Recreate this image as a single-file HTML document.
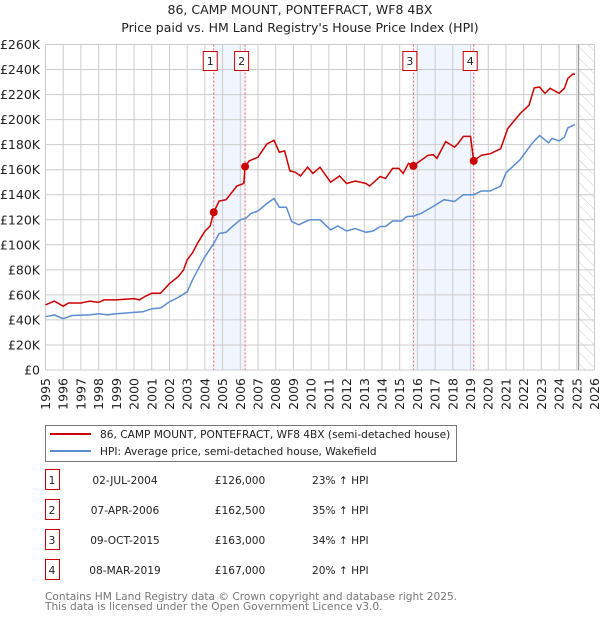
<!DOCTYPE html>
<html><head><meta charset="utf-8"><style>
body{margin:0;background:#fff;}
svg text{font-family:"DejaVu Sans","Liberation Sans",sans-serif;}
</style></head><body>
<svg id="c" width="600" height="620" xmlns="http://www.w3.org/2000/svg">
<defs><pattern id="hatch" width="8" height="8" patternUnits="userSpaceOnUse" patternTransform="rotate(-45)"><line x1="0" y1="0" x2="0" y2="8" stroke="#ccc" stroke-width="1"/></pattern></defs>
<text x="300" y="14" text-anchor="middle" font-size="12.5" fill="#222">86, CAMP MOUNT, PONTEFRACT, WF8 4BX</text>
<text x="300" y="32" text-anchor="middle" font-size="12.5" fill="#222">Price paid vs. HM Land Registry's House Price Index (HPI)</text>
<g id="plot"></g>
<g>
<rect x="45.5" y="425.5" width="411" height="36" fill="#fff" stroke="#777"/>
<line x1="50" y1="434" x2="91" y2="434" stroke="#cc0000" stroke-width="2"/>
<text x="100" y="438" font-size="10.6" fill="#222">86, CAMP MOUNT, PONTEFRACT, WF8 4BX (semi-detached house)</text>
<line x1="50" y1="451" x2="91" y2="451" stroke="#5b8dd0" stroke-width="2"/>
<text x="100" y="455" font-size="10.6" fill="#222">HPI: Average price, semi-detached house, Wakefield</text>
</g>
<g id="table"></g>
<text x="45" y="600" font-size="10.6" fill="#777">Contains HM Land Registry data © Crown copyright and database right 2025.</text>
<text x="45" y="610" font-size="10.6" fill="#777">This data is licensed under the Open Government Licence v3.0.</text>
</svg>
<script>
const hpiYears=[1995,1995.5,1996,1996.5,1997.5,1998,1998.5,1999,2000,2000.5,2001,2001.5,2002,2002.5,2003,2003.3,2003.6,2004,2004.5,2004.8,2005.2,2005.5,2006,2006.3,2006.6,2007,2007.5,2007.9,2008.2,2008.6,2008.9,2009.3,2009.9,2010.5,2011.1,2011.5,2012,2012.5,2013.1,2013.5,2013.9,2014.2,2014.6,2015.1,2015.4,2015.8,2016.2,2016.9,2017.5,2018.1,2018.6,2019.2,2019.6,2020.1,2020.7,2021.0,2021.8,2022.5,2022.9,2023.4,2023.6,2024.0,2024.3,2024.5,2024.9];
const hpiValues=[42.6,44,41,43.5,44,45,44,45,46,46.5,49,49.5,54.5,58,62.5,72,80,90.5,101,109,110,114,120,121,125,127,133,137,130,130,118.5,116,120,120,112,115,111,113,110,111,114.6,114.6,119,119,122.5,123,125,130.7,136,134.6,140,140,143,143,146.8,157.5,168,181.5,187.3,181.5,185,183,186,193.5,196];
const priceYears=[1995,1995.5,1996,1996.3,1997,1997.5,1998,1998.3,1999,2000,2000.3,2000.6,2001,2001.5,2002,2002.5,2002.8,2003,2003.3,2003.6,2004,2004.3,2004.5,2004.8,2005.2,2005.5,2005.8,2006.2,2006.27,2006.5,2007,2007.5,2007.9,2008.2,2008.5,2008.8,2009.1,2009.4,2009.8,2010.1,2010.5,2011.1,2011.6,2012,2012.5,2013.1,2013.3,2013.9,2014.2,2014.6,2014.95,2015.2,2015.5,2015.77,2016.6,2016.9,2017.1,2017.6,2018.1,2018.3,2018.6,2019.0,2019.18,2019.6,2020.1,2020.7,2021.1,2021.8,2022.3,2022.6,2022.9,2023.2,2023.5,2024.0,2024.3,2024.5,2024.8,2024.9];
const priceValues=[52,55,51,53.5,53.5,55,54,56,56,57,56,58.6,61.3,61.3,69,74.6,80,88,93.6,101.6,110.9,115,126,135,136,141.5,147,149,162.5,167,170,180.5,183.5,174,175,159,158,155,162,157,162,150,155,149,151,149,147,154.6,153,161,161,157,165,163,171.5,172,169,182.4,178,181,186.6,186.6,167,171.5,172.7,176.7,192.8,204.8,211.5,225.4,226,221,225,221,225,233,236.6,236];
const saleLabels=["1","2","3","4"];
const saleYears=[2004.5,2006.27,2015.77,2019.18];
const saleValues=[126,162.5,163,167];
const saleDates=["02-JUL-2004","07-APR-2006","09-OCT-2015","08-MAR-2019"];
const salePrices=["£126,000","£162,500","£163,000","£167,000"];
const saleHpi=["23% ↑ HPI","35% ↑ HPI","34% ↑ HPI","20% ↑ HPI"];
const yTicks=[0,20,40,60,80,100,120,140,160,180,200,220,240,260];
const xTicks=[1995,1996,1997,1998,1999,2000,2001,2002,2003,2004,2005,2006,2007,2008,2009,2010,2011,2012,2013,2014,2015,2016,2017,2018,2019,2020,2021,2022,2023,2024,2025,2026];
const dataEnd=2025.1;

const X0=45.5,X1=594.5,Y0=370,Y1=44.5;
const x=y=>X0+(y-1995)/(2026-1995)*(X1-X0);
const yv=v=>Y0-v/260*(Y0-Y1);
const NS="http://www.w3.org/2000/svg";
const plot=document.getElementById('plot');
function mk(tag,at,parent){const e=document.createElementNS(NS,tag);for(const k in at)e.setAttribute(k,at[k]);(parent||plot).appendChild(e);return e;}

for(let i=0;i<saleYears.length;i+=2){
  const r=mk('rect',{x:x(saleYears[i]),y:Y1,width:x(saleYears[i+1])-x(saleYears[i]),height:Y0-Y1,fill:'#eef3fc',opacity:0.8});
  
  
}
const hr=mk('rect',{x:x(dataEnd),y:Y1,width:X1-x(dataEnd),height:Y0-Y1,fill:'url(#hatch)'});


yTicks.forEach(t=>{
  const l=mk('line',{x1:X0,x2:X1,y1:yv(t),y2:yv(t),stroke:'#ccc','stroke-width':1});
  
  
  const tx=mk('text',{x:40,y:yv(t)+4.5,'text-anchor':'end','font-size':12.5,fill:'#222'});
  tx.textContent=t===0?'£0':'£'+t+'K';
  
  
});
xTicks.forEach(t=>{
  const l=mk('line',{x1:x(t),x2:x(t),y1:Y1,y2:Y0,stroke:'#ccc','stroke-width':1});
  
  
  const tx=mk('text',{x:0,y:0,'text-anchor':'end','font-size':12.5,fill:'#222',transform:`translate(${x(t)+4.5},378) rotate(-90)`});
  tx.textContent=t;
  
  
});
const el=mk('line',{x1:x(dataEnd),x2:x(dataEnd),y1:Y1,y2:Y0,stroke:'#999','stroke-width':1.2});


saleYears.forEach((s,i)=>{
  const l=mk('line',{x1:x(s),x2:x(s),y1:Y1,y2:Y0,stroke:'#e06060','stroke-width':1,'stroke-dasharray':'2,2'});
  
  
  const b=mk('rect',{x:x(s)-10.5,y:51.5,width:14,height:19,fill:'#fff',stroke:'#cc0000','stroke-width':1});
  
  
  const t=mk('text',{x:x(s)-3.5,y:65,'text-anchor':'middle','font-size':11,fill:'#222'});
  t.textContent=saleLabels[i];
  
  
});
const hp=mk('path',{d:hpiYears.map((v,i)=>(i?'L':'M')+x(v).toFixed(1)+','+yv(hpiValues[i]).toFixed(1)).join(''),fill:'none',stroke:'#5b8dd0','stroke-width':1.5});


const pp=mk('path',{d:priceYears.map((v,i)=>(i?'L':'M')+x(v).toFixed(1)+','+yv(priceValues[i]).toFixed(1)).join(''),fill:'none',stroke:'#cc0000','stroke-width':1.5});


saleYears.forEach((s,i)=>{
  const c=mk('circle',{cx:x(s),cy:yv(saleValues[i]),r:4,fill:'#cc0000'});
  
  
});
const tb=document.getElementById('table');
saleYears.forEach((s,i)=>{
  const cy=483+i*30;
  const b=mk('rect',{x:45.5,y:cy-13.5,width:14,height:20,fill:'#fff',stroke:'#cc0000'},tb);
  
  
  const cells=[[52,saleLabels[i],'middle','row-number'],[125,saleDates[i],'middle','row-date'],[240,salePrices[i],'middle','row-price'],[312,saleHpi[i],'start','row-hpi']];
  cells.forEach(c=>{
    const t=mk('text',{x:c[0],y:cy+1,'text-anchor':c[2],'font-size':10.6,fill:'#222'},tb);
    t.textContent=c[1];
    
    
  });
});
</script>
</body></html>
